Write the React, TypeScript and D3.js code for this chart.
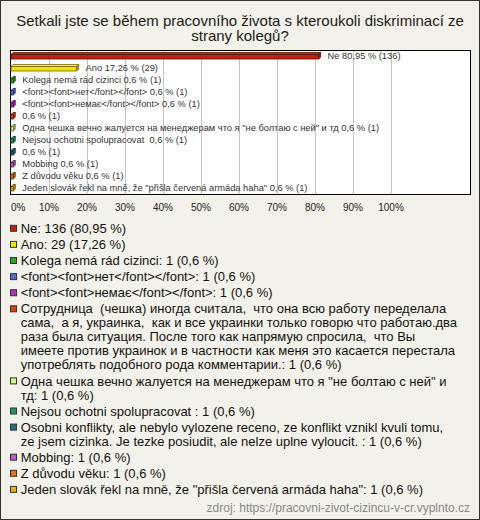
import React from "react";
import * as d3 from "d3";

const title = ["Setkali jste se během pracovního života s kteroukoli diskriminací ze", "strany kolegů?"];
const categories = [
  "Ne",
  "Ano",
  "Kolega nemá rád cizinci",
  "<font><font>нет</font></font>",
  "<font><font>немає</font></font>",
  "Сотрудница  (чешка) иногда считала,  что она всю работу переделала\nсама,  а я, украинка,  как и все украинки только говорю что работаю.два\nраза была ситуация. После того как напрямую спросила,  что Вы\nимеете против украинок и в частности как меня это касается перестала\nупотреблять подобного рода комментарии.",
  "Одна чешка вечно жалуется на менеджерам что я \"не болтаю с ней\" и\nтд",
  "Nejsou ochotni spolupracovat ",
  "Osobni konflikty, ale nebylo vylozene receno, ze konflikt vznikl kvuli tomu,\nze jsem cizinka. Je tezke posiudit, ale nelze uplne vyloucit. ",
  "Mobbing",
  "Z důvodu věku",
  "Jeden slovák řekl na mně, že \"přišla červená armáda haha\"",
];
const counts = [136, 29, 1, 1, 1, 1, 1, 1, 1, 1, 1, 1];
const percents = [80.95, 17.26, 0.6, 0.6, 0.6, 0.6, 0.6, 0.6, 0.6, 0.6, 0.6, 0.6];
const colors = [
  "#c4200e", "#f2e20c", "#22b022", "#4a6ee0", "#c424d4", "#e0400e",
  "#d4f58a", "#1e9e5e", "#1e7090", "#c25cc4", "#e8780e", "#e8b40a",
];
const ticks = [0, 10, 20, 30, 40, 50, 60, 70, 80, 90, 100];
const source = "zdroj: https://pracovni-zivot-cizincu-v-cr.vyplnto.cz";

const W = 480, H = 520;
const FONT = "Arial, 'Liberation Sans', sans-serif";

export default function App() {
  const x = d3.scaleLinear().domain([0, 100]).range([11, 391]);
  const y = d3.scaleBand<number>().domain(categories.map((_, i) => i)).range([50, 194]);
  const fmt = (p: number) => String(p).replace(".", ",");
  const depth = 2;

  const lineH = 14, gap = 2.1;
  let cy = 228.3;
  const legendItems = categories.map((c, i) => {
    const text = `${c}: ${counts[i]} (${fmt(percents[i])} %)`;
    const lines = text.split("\n");
    const item = { lines, cy, color: colors[i] };
    cy += lines.length * lineH + gap;
    return item;
  });

  return (
    <svg width={W} height={H} style={{ position: "absolute", left: 0, top: 0 }} fontFamily={FONT}>
      <rect x={0.5} y={0.5} width={W - 1} height={H - 1} fill="#f3f2ea" stroke="#333" />
      {title.map((t, i) => (
        <text key={i} x={240} y={26 + i * 15} textAnchor="middle" fontSize={15} fill="#1a1a1a">{t}</text>
      ))}
      <rect x={10.5} y={50.5} width={460} height={144} fill="#fff" stroke="#000" />
      {ticks.slice(1).map((t) => (
        <line key={t} x1={Math.round(x(t)) + 0.5} x2={Math.round(x(t)) + 0.5} y1={51} y2={194} stroke="#c4c4c4" />
      ))}
      {categories.map((c, i) => {
        const c0 = (y(i) as number) + y.bandwidth() / 2;
        const x0 = x(0), x1 = x(percents[i]);
        const top = c0 - 1.5, h = 4.5;
        const base = d3.color(colors[i])!;
        const stroke = d3.color(colors[i])!.darker(2.2).formatHex();
        const light = d3.color(colors[i])!.brighter(0.3).formatHex();
        const dark = d3.color(colors[i])!.darker(0.8).formatHex();
        const name = c.length > 100 ? "" : c.replace(/\n/g, " ");
        const label = `${name ? name + " " : ""}${fmt(percents[i])} % (${counts[i]})`;
        return (
          <g key={i}>
            <polygon points={`${x0},${top} ${x0 + depth},${top - depth} ${x1 + depth},${top - depth} ${x1},${top}`} fill={light} stroke={stroke} strokeWidth={0.8} />
            <polygon points={`${x1},${top} ${x1 + depth},${top - depth} ${x1 + depth},${top - depth + h} ${x1},${top + h}`} fill={dark} stroke={stroke} strokeWidth={0.8} />
            <rect x={x0} y={top} width={x1 - x0} height={h} fill={base.formatHex()} stroke={stroke} strokeWidth={0.8} />
            <text x={x1 + depth + 7} y={c0 + 3.2} fontSize={9.3} fill="#333" style={{ whiteSpace: "pre" }}>{label}</text>
          </g>
        );
      })}
      {ticks.map((t, i) => (
        <text key={t} x={x(t)} y={211} fontSize={10} fill="#222" textAnchor={i === 0 ? "start" : "middle"}>{t}%</text>
      ))}
      {legendItems.map((it, i) => (
        <g key={i}>
          <rect x={10.5} y={it.cy - 3} width={6} height={6} fill={it.color} stroke="#333" />
          {it.lines.map((l, j) => (
            <text key={j} x={20.7} y={it.cy + j * lineH + 4.6} fontSize={13} fill="#111" style={{ whiteSpace: "pre" }}>{l}</text>
          ))}
        </g>
      ))}
      <text x={470} y={512} fontSize={12} fill="#888" textAnchor="end">{source}</text>
    </svg>
  );
}
